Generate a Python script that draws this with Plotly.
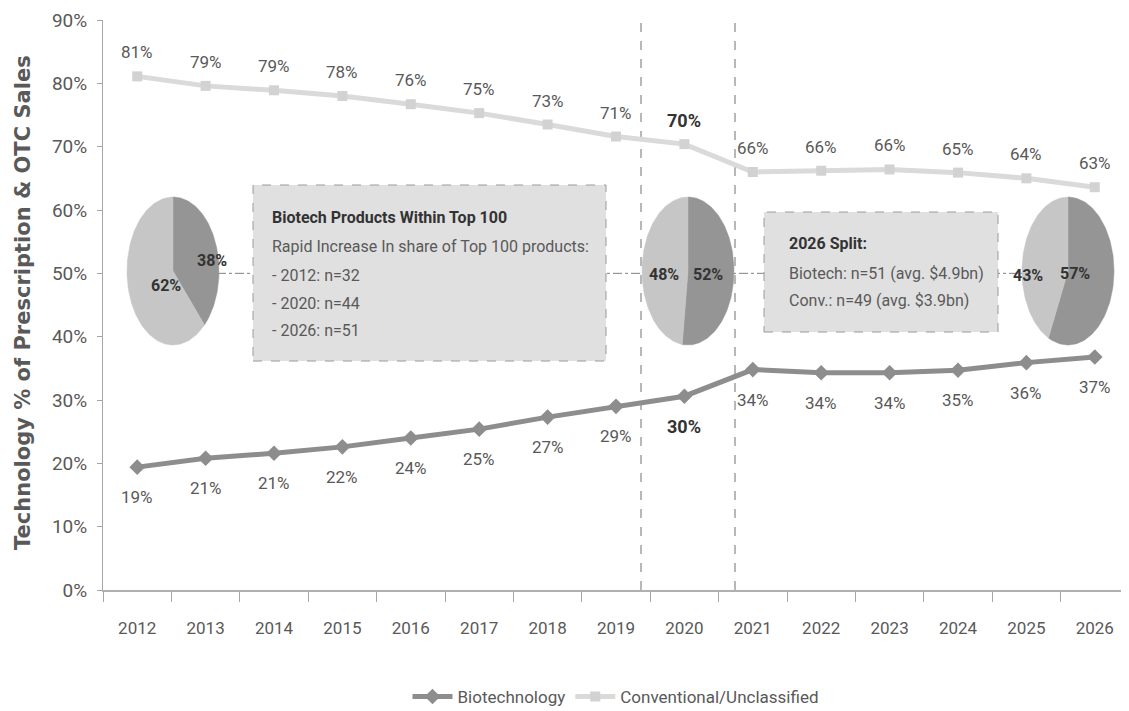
import numpy as np
import plotly.graph_objects as go

years = list(range(2012, 2027))
year_labels = [str(y) for y in years]
biotech = [19.4, 20.8, 21.6, 22.6, 24.0, 25.4, 27.3, 29.0, 30.6, 34.8, 34.3, 34.3, 34.7, 35.9, 36.8]
conventional = [81.1, 79.6, 78.9, 78.0, 76.7, 75.3, 73.5, 71.6, 70.4, 66.0, 66.2, 66.4, 65.9, 65.0, 63.6]
biotech_labels = [19, 21, 21, 22, 24, 25, 27, 29, 30, 34, 34, 34, 35, 36, 37]
conv_labels = [81, 79, 79, 78, 76, 75, 73, 71, 70, 66, 66, 66, 65, 64, 63]
highlight_year = 2020

pie_biotech_share = [38, 52, 57]
pie_conv_share = [62, 48, 43]

y_ticks = list(range(0, 100, 10))
y_tick_text = [f"{v}%" for v in y_ticks]

# layout geometry in target-image pixels (page body has an 8px margin)
OFF = 8
IMG_W, IMG_H = 1129, 711
W, H = IMG_W - OFF, IMG_H - OFF
PL, PR, PT, PB = 103, 1129, 20, 590          # plot area in image pixels
L, T = PL - OFF, PT - OFF
R = W - (PR - OFF)
B = H - (PB - OFF)
PW = PR - PL
PH = PB - PT
X0, X1 = years[0] - 0.5, years[-1] + 0.5


def px(xp):
    return (xp - PL) / PW


def py(yp):
    return (PB - yp) / PH


def xdata(xp):
    return X0 + (xp - PL) / PW * (X1 - X0)


def ydata(yp):
    return (PB - yp) / PH * 90


C_BIO = "#8d8d8d"
C_CONV = "#dadada"
C_PIE_DARK = "#959595"
C_PIE_LIGHT = "#c6c6c6"
TXT = "#595959"
DARK = "#333333"
FONT = "Roboto, Liberation Sans, sans-serif"

fig = go.Figure()

fig.add_trace(go.Scatter(
    x=years, y=biotech, mode="lines+markers", name="Biotechnology",
    line=dict(color=C_BIO, width=5),
    marker=dict(symbol="diamond", size=12, color=C_BIO),
))
fig.add_trace(go.Scatter(
    x=years, y=conventional, mode="lines+markers", name="Conventional/Unclassified",
    line=dict(color=C_CONV, width=5),
    marker=dict(symbol="square", size=10, color="#d2d2d2"),
))

# pies drawn as elliptical wedges (ellipse because the original chart is stretched)
pie_centers_px = [(173, 271), (688, 271), (1068, 271)]
rx_px, ry_px = 46, 74
rx = rx_px / PW * (X1 - X0)
ry = ry_px / PH * 90
for (cxp, cyp), b, c in zip(pie_centers_px, pie_biotech_share, pie_conv_share):
    cx = xdata(cxp)
    cy = ydata(cyp)
    a0 = 90.0
    a1 = 90.0 - 360.0 * b / (b + c)
    a2 = -270.0
    for start, end, col in [(a0, a1, C_PIE_DARK), (a1, a2, C_PIE_LIGHT)]:
        th = np.radians(np.linspace(start, end, 120))
        xs = np.concatenate([[cx], cx + rx * np.cos(th), [cx]])
        ys = np.concatenate([[cy], cy + ry * np.sin(th), [cy]])
        fig.add_trace(go.Scatter(
            x=xs, y=ys, mode="lines", fill="toself",
            fillcolor=col, line=dict(color=col, width=0.5),
            hoverinfo="skip", showlegend=False,
        ))

shapes = []
# connector line at 50%
shapes.append(dict(type="line", xref="paper", yref="y", x0=px(217), x1=px(1025), y0=50, y1=50,
                   line=dict(color="#808080", width=1, dash="dashdot"), layer="below"))
# vertical dashed separators
for xp in [641, 735]:
    shapes.append(dict(type="line", xref="paper", yref="paper", x0=px(xp), x1=px(xp), y0=0, y1=py(14),
                       line=dict(color="#707070", width=1, dash="dash"), layer="below"))
# boxes
for (x0, y0, x1, y1) in [(253, 185, 606, 361), (764, 212, 998, 332)]:
    shapes.append(dict(type="rect", xref="paper", yref="paper", x0=px(x0), x1=px(x1), y0=py(y1), y1=py(y0),
                       fillcolor="#e0e0e0", line=dict(color="#9a9a9a", width=1, dash="dash"), layer="below"))

ann = []
# data labels
for yr, v, lab in zip(years, conventional, conv_labels):
    hl = yr == highlight_year
    ann.append(dict(x=yr, y=v, xref="x", yref="y", text=f"<b>{lab}%</b>" if hl else f"{lab}%",
                    showarrow=False, yshift=24,
                    font=dict(family=FONT, size=18 if hl else 17, color=DARK if hl else TXT)))
for yr, v, lab in zip(years, biotech, biotech_labels):
    hl = yr == highlight_year
    ann.append(dict(x=yr, y=v, xref="x", yref="y", text=f"<b>{lab}%</b>" if hl else f"{lab}%",
                    showarrow=False, yshift=-30,
                    font=dict(family=FONT, size=18 if hl else 17, color=DARK if hl else TXT)))

# pie labels
pie_label_pos = [((195, 260), (149, 285)), ((708, 274), (664, 274)), ((1092, 273), (1045, 275))]
for (bp, cp), b, c in zip(pie_label_pos, pie_biotech_share, pie_conv_share):
    for (xp, yp), v in [(bp, b), (cp, c)]:
        ann.append(dict(xref="paper", yref="paper", x=px(xp), y=py(yp), text=f"<b>{v}%</b>",
                        showarrow=False, font=dict(family=FONT, size=16, color=DARK)))

# box 1 text
box1 = [("<b>Biotech Products Within Top 100</b>", 218, DARK),
        ("Rapid Increase In share of Top 100 products:", 246, TXT),
        ("- 2012: n=32", 275, TXT),
        ("- 2020: n=44", 303, TXT),
        ("- 2026: n=51", 331, TXT)]
for t, yp, col in box1:
    ann.append(dict(xref="paper", yref="paper", x=px(270), y=py(yp), xanchor="left", yanchor="middle",
                    text=t, showarrow=False, font=dict(family=FONT, size=16, color=col)))
box2 = [("<b>2026 Split:</b>", 243, DARK),
        ("Biotech: n=51 (avg. $4.9bn)", 273, TXT),
        ("Conv.: n=49 (avg. $3.9bn)", 300, TXT)]
for t, yp, col in box2:
    ann.append(dict(xref="paper", yref="paper", x=px(787), y=py(yp), xanchor="left", yanchor="middle",
                    text=t, showarrow=False, font=dict(family=FONT, size=16, color=col)))

# y axis title
ann.append(dict(xref="paper", yref="paper", x=px(23), y=py(303), xanchor="center", yanchor="middle",
                text="<b>Technology % of Prescription &amp; OTC Sales</b>",
                textangle=-90, showarrow=False, font=dict(family="DejaVu Sans, Arial, sans-serif", size=21, color=TXT)))

fig.update_layout(
    width=W, height=H,
    margin=dict(l=L, r=R, t=T, b=B, pad=0, autoexpand=False),
    paper_bgcolor="white", plot_bgcolor="white",
    showlegend=True,
    legend=dict(orientation="h", x=0.5, xanchor="center", y=py(697), yanchor="middle",
                font=dict(family=FONT, size=17, color=TXT), itemwidth=40),
    xaxis=dict(type="linear", range=[X0, X1], tickmode="array", tickvals=years, ticktext=year_labels,
               ticks="", automargin=False,
               minor=dict(tickmode="array", tickvals=[y - 0.5 for y in years] + [years[-1] + 0.5],
                          ticks="outside", ticklen=10, tickcolor="#a6a6a6", tickwidth=1, showgrid=False),
               showline=True, linecolor="#b0b0b0", linewidth=2, showgrid=False,
               zeroline=False, tickfont=dict(family=FONT, size=17, color=TXT), ticklabelstandoff=22),
    yaxis=dict(range=[0, 90], tickmode="array", tickvals=y_ticks, ticktext=y_tick_text, ticks="outside", ticklen=5,
               tickcolor="#a6a6a6", showline=True, linecolor="#a6a6a6", linewidth=1, showgrid=False,
               zeroline=False, automargin=False,
               tickfont=dict(family=FONT, size=19, color=TXT), ticklabelstandoff=6),
    shapes=shapes,
    annotations=ann,
)

fig.write_html("out.html")
